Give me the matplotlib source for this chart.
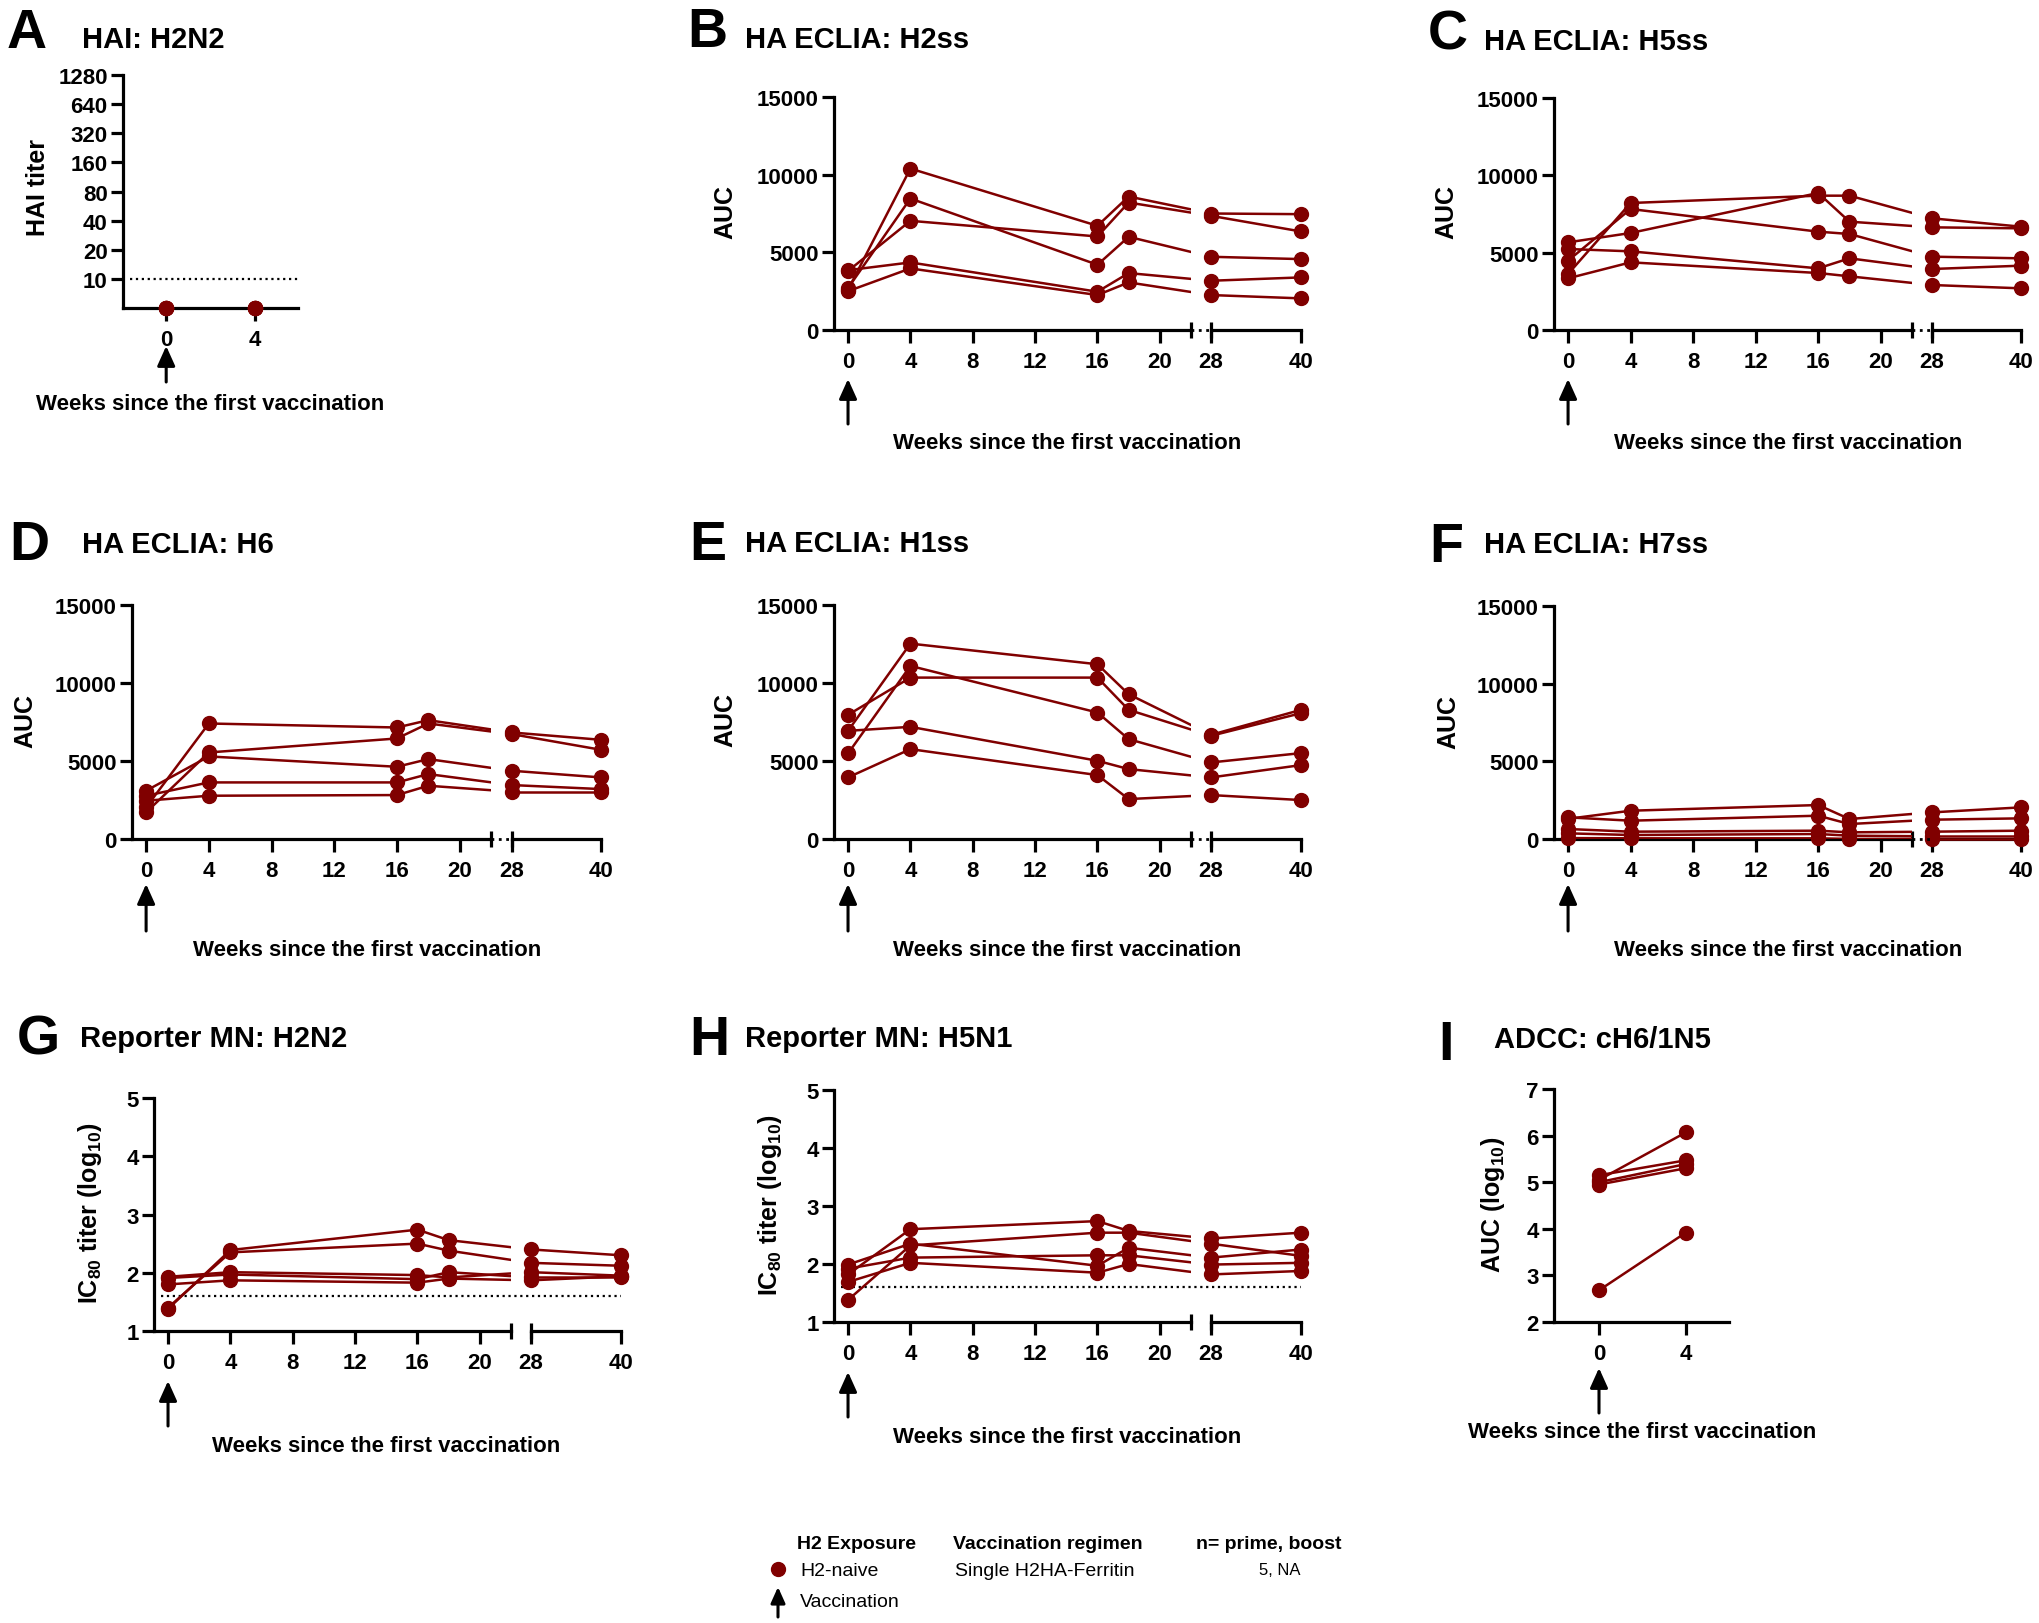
import matplotlib.pyplot as plt
from matplotlib.lines import Line2D

plt.rcParams['font.family'] = ['Liberation Sans', 'DejaVu Sans']
plt.rcParams['font.weight'] = 'bold'
plt.rcParams['mathtext.default'] = 'regular'

RED = '#800000'
W, H = 2040, 1624

# ---- data (one row per animal) ----
weeks = [0, 4, 16, 18, 28, 40]
early_weeks = [0, 4]

# HAI H2N2: everything below detection, plotted at 5
hai_h2n2 = [[5, 5], [5, 5], [5, 5], [5, 5], [5, 5]]

h2ss = [[2600, 10393, 6707, 8593, 7500, 7457],
        [2700, 8464, 4200, 6000, 4714, 4564],
        [3800, 7029, 6021, 8207, 7350, 6343],
        [3850, 4350, 2464, 3664, 3171, 3386],
        [2500, 3964, 2250, 3064, 2250, 2036]]

h5ss = [[3621, 8211, 8685, 8685, 7220, 6681],
        [4483, 7823, 6358, 6207, 4741, 4634],
        [5668, 6272, 8858, 7004, 6638, 6573],
        [5237, 5086, 3987, 4634, 3944, 4159],
        [3341, 4375, 3685, 3470, 2909, 2694]]

h6 = [[2027, 7404, 7148, 7617, 6828, 6359],
      [1707, 5548, 6444, 7404, 6721, 5718],
      [3094, 5292, 4630, 5121, 4374, 3947],
      [2774, 3627, 3627, 4161, 3457, 3200],
      [2454, 2774, 2816, 3414, 3030, 3030]]

h1ss = [[6934, 12525, 11202, 9282, 6678, 8279],
        [7959, 10346, 10346, 8279, 6615, 8065],
        [5484, 11095, 8108, 6401, 4908, 5505],
        [6934, 7190, 5014, 4481, 3947, 4737],
        [3947, 5761, 4097, 2560, 2816, 2496]]

h7ss = [[1300, 1821, 2186, 1286, 1714, 2036],
        [1393, 1179, 1500, 964, 1243, 1329],
        [643, 471, 536, 429, 471, 536],
        [364, 257, 321, 214, 171, 171],
        [60, 43, 43, 0, 0, 0]]

mn_h2n2 = [[1.38, 2.39, 2.74, 2.56, 2.40, 2.30],
           [1.40, 2.35, 2.50, 2.38, 2.17, 2.12],
           [1.93, 2.01, 1.96, 1.92, 2.01, 1.95],
           [1.91, 1.97, 1.89, 2.01, 1.92, 1.92],
           [1.80, 1.87, 1.83, 1.90, 1.87, 1.94]]

mn_h5n1 = [[1.82, 2.60, 2.74, 2.57, 2.44, 2.54],
           [1.38, 2.32, 2.54, 2.54, 2.35, 2.14],
           [1.99, 2.35, 1.97, 2.28, 2.11, 2.25],
           [1.92, 2.11, 2.15, 2.15, 1.99, 2.02],
           [1.69, 2.02, 1.85, 2.00, 1.82, 1.88]]

adcc = [[5.05, 6.07], [5.15, 5.47], [5.00, 5.39], [4.95, 5.30], [2.68, 3.92]]

hai_ticks = [10, 20, 40, 80, 160, 320, 640, 1280]
auc_ticks = [0, 5000, 10000, 15000]
mn_ticks = [1, 2, 3, 4, 5]
adcc_ticks = [2, 3, 4, 5, 6, 7]
mn_lod = 1.6
hai_lod = 10

MS = 10
LW = 1.8

fig = plt.figure(figsize=(W / 100, H / 100), dpi=100)


def box(x0, x1, ytop, ybot):
    return fig.add_axes([x0 / W, 1 - ybot / H, (x1 - x0) / W, (ybot - ytop) / H])


def style(ax):
    for s in ['top', 'right']:
        ax.spines[s].set_visible(False)
    for s in ['left', 'bottom']:
        ax.spines[s].set_linewidth(2.3)
    ax.tick_params(width=2.3, length=9, labelsize=16, pad=2)
    ax.tick_params(axis='x', pad=6)
    ax.patch.set_alpha(0)


def put(x, y, s, **kw):
    fig.text(x / W, 1 - y / H, s, **kw)


def arrow(ax, x, tip, tail, xc='data', scale=20):
    ax.annotate('', xy=(x, H - tip), xytext=(x, H - tail),
                xycoords=(xc, 'figure pixels'), textcoords=(xc, 'figure pixels'),
                annotation_clip=False,
                arrowprops=dict(arrowstyle='-|>,head_length=0.6,head_width=0.27',
                                color='k', lw=2.2, mutation_scale=scale,
                                shrinkA=0, shrinkB=0))


def timecourse(x0, xb, x2, x3, ytop, ybot, rows, ylim, yticks, lod=None, dotted=True):
    ax1 = box(x0, xb, ytop, ybot)
    ax2 = box(x2, x3, ytop, ybot)
    for ax in (ax1, ax2):
        style(ax)
        ax.set_ylim(*ylim)
    ax1.set_xlim(-0.9, 22)
    ax2.set_xlim(28, 40)
    ax1.set_xticks([0, 4, 8, 12, 16, 20])
    ax2.set_xticks([28, 40])
    ax1.set_yticks(yticks)
    ax1.set_yticklabels([str(t) for t in yticks])
    ax2.spines['left'].set_visible(False)
    ax2.tick_params(axis='y', left=False, labelleft=False)
    # where week 28 sits in the first segment's data coords (line crosses the break)
    x28 = ax1.transData.inverted().transform(ax2.transData.transform((28, ylim[0])))[0]
    for r in rows:
        ax1.plot(weeks[:4] + [x28], r[:5], color=RED, lw=LW, zorder=3)
        ax1.plot(weeks[:4], r[:4], 'o', color=RED, ms=MS, zorder=4, clip_on=False)
        ax2.plot(weeks[4:], r[4:], '-o', color=RED, lw=LW, ms=MS, zorder=4, clip_on=False)
    ax1.plot([1], [0], marker='|', ms=12, mew=2.3, color='k',
             transform=ax1.transAxes, clip_on=False)
    ax2.plot([0], [0], marker='|', ms=12, mew=2.3, color='k',
             transform=ax2.transAxes, clip_on=False)
    if dotted:
        fig.add_artist(Line2D([xb / W, x2 / W], [1 - ybot / H] * 2, ls=':', color='k',
                              lw=2, transform=fig.transFigure))
    if lod is not None:
        end = (x3 - x0) / (xb - x0)
        ax1.plot([0.02, end], [lod, lod], transform=ax1.get_yaxis_transform(),
                 ls=':', color='k', lw=1.6, clip_on=False)
    return ax1


def short_panel(x0, x1, ytop, ybot, rows, ylim, xlim, line=True):
    ax = box(x0, x1, ytop, ybot)
    style(ax)
    ax.set_xlim(*xlim)
    ax.set_ylim(*ylim)
    ax.set_xticks(early_weeks)
    for r in rows:
        ax.plot(early_weeks, r, '-o' if line else 'o', color=RED, lw=LW, ms=MS,
                zorder=4, clip_on=False)
    return ax


# A: HAI
axA = short_panel(123, 298, 76, 309, hai_h2n2, (5, 1280), (-1.95, 5.95), line=False)
axA.set_yscale('log', base=2)
axA.set_ylim(5, 1280)
axA.set_yticks(hai_ticks)
axA.set_yticklabels([str(t) for t in hai_ticks])
axA.minorticks_off()
axA.plot([0.04, 1], [hai_lod, hai_lod], transform=axA.get_yaxis_transform(),
         ls=':', color='k', lw=1.6)
arrow(axA, 0, 347, 383)

axB = timecourse(834, 1191, 1211, 1301, 98, 331, h2ss, (0, 15000), auc_ticks)
arrow(axB, 0, 380, 425)
axC = timecourse(1554, 1912, 1932, 2021, 99, 331, h5ss, (0, 15000), auc_ticks)
arrow(axC, 0, 380, 425)
axD = timecourse(132, 491, 512, 601, 606, 840, h6, (0, 15000), auc_ticks)
arrow(axD, 0, 885, 932)
axE = timecourse(834, 1191, 1211, 1301, 606, 840, h1ss, (0, 15000), auc_ticks)
arrow(axE, 0, 885, 932)
axF = timecourse(1554, 1912, 1932, 2021, 607, 840, h7ss, (0, 15000), auc_ticks)
arrow(axF, 0, 885, 932)
axG = timecourse(154, 511, 531, 621, 1099, 1332, mn_h2n2, (1, 5), mn_ticks,
                 lod=mn_lod, dotted=False)
arrow(axG, 0, 1382, 1427)
axH = timecourse(834, 1191, 1211, 1301, 1091, 1323, mn_h5n1, (1, 5), mn_ticks,
                 lod=mn_lod, dotted=False)
arrow(axH, 0, 1373, 1418)

axI = short_panel(1554, 1729, 1090, 1323, adcc, (2, 7), (-2.07, 5.98))
axI.set_yticks(adcc_ticks)
arrow(axI, 0, 1369, 1414)

# panel letters and titles
letters = [('A', 7, 48), ('B', 687, 47), ('C', 1428, 50), ('D', 9, 560), ('E', 689, 560),
           ('F', 1429, 562), ('G', 17, 1055), ('H', 689, 1055), ('I', 1438, 1060)]
for s, x, y in letters:
    put(x, y, s, fontsize=40, ha='left', va='baseline')

titles = [('HAI: H2N2', 82, 48), ('HA ECLIA: H2ss', 745, 48), ('HA ECLIA: H5ss', 1484, 50),
          ('HA ECLIA: H6', 82, 553), ('HA ECLIA: H1ss', 745, 552), ('HA ECLIA: H7ss', 1484, 553),
          ('Reporter MN: H2N2', 80, 1047), ('Reporter MN: H5N1', 745, 1047),
          ('ADCC: cH6/1N5', 1494, 1048)]
for s, x, y in titles:
    put(x, y, s, fontsize=21, ha='left', va='baseline')

ylabels = [('HAI titer', 38, 188), ('AUC', 725, 212), ('AUC', 1446, 212), ('AUC', 25, 721),
           ('AUC', 725, 720), ('AUC', 1448, 722),
           ('IC$_{80}$ titer (log$_{10}$)', 90, 1213),
           ('IC$_{80}$ titer (log$_{10}$)', 770, 1205),
           ('AUC (log$_{10}$)', 1493, 1205)]
for s, x, y in ylabels:
    put(x, y, s, fontsize=18, rotation=90, ha='center', va='center')

xlab = 'Weeks since the first vaccination'
for x, y in [(210, 410), (1067, 449), (1788, 449), (367, 956), (1067, 956), (1788, 956),
             (386, 1452), (1067, 1443), (1642, 1438)]:
    put(x, y, xlab, fontsize=16, ha='center', va='baseline')

# legend
put(797, 1549, 'H2 Exposure', fontsize=14, va='baseline')
put(953, 1549, 'Vaccination regimen', fontsize=14, va='baseline')
put(1196, 1549, 'n= prime, boost', fontsize=14, va='baseline')
fig.add_artist(Line2D([778 / W], [1 - 1570 / H], marker='o', color=RED, ms=MS,
                      transform=fig.transFigure))
put(800, 1576, 'H2-naive', fontsize=14, fontweight='normal', va='baseline')
put(955, 1576, 'Single H2HA-Ferritin', fontsize=14, fontweight='normal', va='baseline')
put(1280, 1575, '5, NA', fontsize=12, fontweight='normal', ha='center', va='baseline')
arrow(axH, 778, 1588, 1618, xc='figure pixels', scale=16)
put(800, 1607, 'Vaccination', fontsize=14, fontweight='normal', va='baseline')

fig.savefig('out.png', dpi=100)
